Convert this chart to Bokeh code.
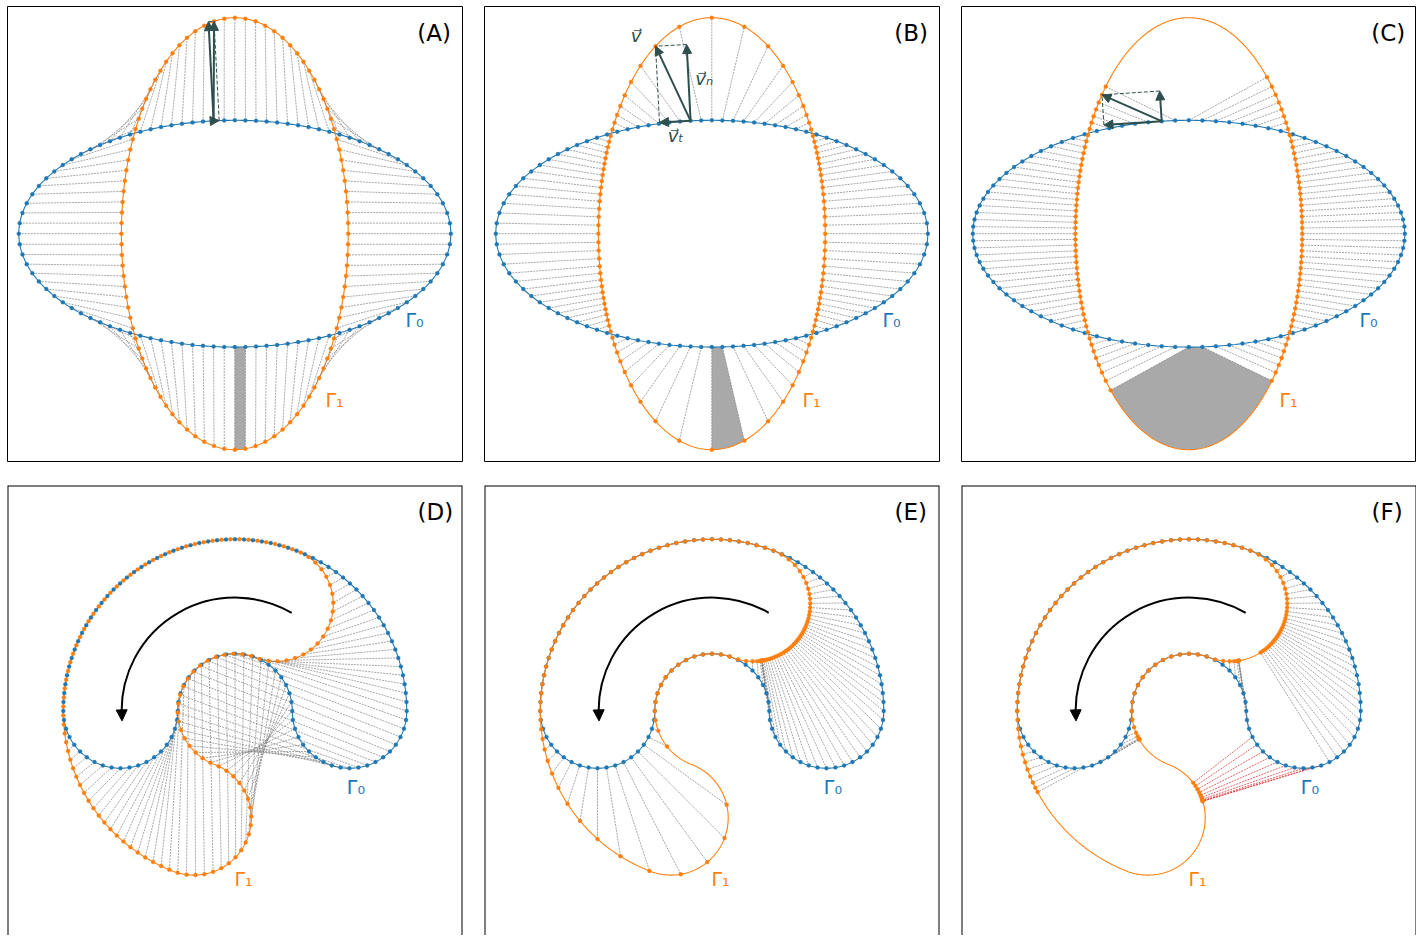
import numpy as np
from bokeh.plotting import figure
from bokeh.layouts import row, column
from bokeh.models import Range1d, Arrow, NormalHead
from bokeh.embed import file_html
from bokeh.resources import INLINE
from bokeh.core.properties import value

# ---------------- data ----------------
panel_letters = ["(A)", "(B)", "(C)", "(D)", "(E)", "(F)"]
curve_labels = ["Γ₀", "Γ₁"]
vector_labels = ["v⃗", "v⃗ₙ", "v⃗ₜ"]

gamma0_axes = [2.0, 1.05]      # ellipse Γ0 semi-axes (x, y)
gamma1_axes = [1.05, 2.0]      # ellipse Γ1 semi-axes (x, y)
ellipse_n = 100                # number of sample points on Γ0
arrow_idx = 27                 # point whose displacement is decomposed
shade_idx = [75, 76]           # shaded cell
shoot_dir_scale = [1.0, 0.4]   # panel (B) displacement direction scaling

bean_radii = [1.59, 0.53]      # outer / inner radius of the bean Γ0
bean_rot_deg = 69.0            # Γ1 = Γ0 rotated by this angle
bean_n = 120                   # number of sample points on bean Γ0
rot_arrow = [1.05, 60.0, 180.0, 185.0]   # radius, start, arc end, tip (deg)

label_top = [[1.664, -0.797], [0.923, -1.538]]
label_bot = [[1.12, -0.705], [0.08, -1.554]]
vec_label_xy = [[-0.70, 1.835], [-0.07, 1.434], [-0.333, 0.909]]
letter_xy = [[1.69, 1.855], [1.69, 1.84]]

BLUE, ORANGE, GREY = "#1f77b4", "#ff7f0e", "#7f7f7f"
DSG, RED, SHADE = "#2f4f4f", "#d62728", "#a9a9a9"
FONT = value("DejaVu Sans")
SCALE = 108.0   # pixels per unit


# ---------------- geometry helpers ----------------
def ell(ax, t):
    t = np.asarray(t, float)
    return np.column_stack([ax[0] * np.cos(t), ax[1] * np.sin(t)])


def ell_normal(ax, t):
    n = np.array([np.cos(t) / ax[0], np.sin(t) / ax[1]])
    return n / np.linalg.norm(n)


def arc_params(ax, n, m=40000):
    t = np.linspace(0.0, 2 * np.pi, m + 1)
    xy = ell(ax, t)
    cum = np.concatenate([[0.0], np.cumsum(np.hypot(*np.diff(xy, axis=0).T))])
    return np.interp(np.arange(n) * cum[-1] / n, cum, t)


def nearest_idx(p, dense):
    d2 = ((dense - p) ** 2).sum(1)
    m = d2.min()
    return int(np.flatnonzero(d2 <= m + 1e-9)[0])


def shoot_ellipse(p, d, ax):
    a, b = ax
    qa = (d[0] / a) ** 2 + (d[1] / b) ** 2
    qb = 2 * (p[0] * d[0] / a ** 2 + p[1] * d[1] / b ** 2)
    qc = (p[0] / a) ** 2 + (p[1] / b) ** 2 - 1
    disc = max(qb * qb - 4 * qa * qc, 0.0)
    roots = [(-qb - np.sqrt(disc)) / (2 * qa), (-qb + np.sqrt(disc)) / (2 * qa)]
    pos = [r for r in roots if r >= -1e-12]
    lam = min(pos) if pos else 0.0
    return p + lam * d


T_DENSE = np.linspace(0, 2 * np.pi, 40000, endpoint=False)
G1_DENSE = ell(gamma1_axes, T_DENSE)

# panel A: arc-length correspondence
tA0 = arc_params(gamma0_axes, ellipse_n)
tA1 = arc_params(gamma1_axes, ellipse_n)
A_src = ell(gamma0_axes, tA0)
A_img = ell(gamma1_axes, tA1)
A_timg = tA1.copy()

# panel B: shooting along a scaled direction
B_src = A_src.copy()
B_img = np.zeros_like(B_src)
for i, pt in enumerate(B_src):
    d = np.array([pt[0] * shoot_dir_scale[0], pt[1] * shoot_dir_scale[1]])
    inside = (pt[0] / gamma1_axes[0]) ** 2 + (pt[1] / gamma1_axes[1]) ** 2 < 1
    if not inside:
        d = -d
    B_img[i] = shoot_ellipse(pt, d, gamma1_axes)
B_timg = np.mod(np.arctan2(B_img[:, 1] / gamma1_axes[1], B_img[:, 0] / gamma1_axes[0]), 2 * np.pi)

# panel C: closest point projection, uniform parameter on Γ0
tC0 = 2 * np.pi * np.arange(ellipse_n) / ellipse_n
C_src = ell(gamma0_axes, tC0)
kC = np.array([nearest_idx(pt, G1_DENSE) for pt in C_src])
C_img = G1_DENSE[kC]
C_timg = T_DENSE[kC]

# ---------------- bean shapes ----------------
R_OUT, R_IN = bean_radii
W = (R_OUT - R_IN) / 2
RHO = (R_OUT + R_IN) / 2
LEN = np.array([np.pi * R_OUT, np.pi * W, np.pi * R_IN, np.pi * W])
CUM = np.concatenate([[0.0], np.cumsum(LEN)])
PER = CUM[-1]
ALPHA = np.deg2rad(bean_rot_deg)


def bean(s):
    s = np.mod(np.atleast_1d(np.asarray(s, float)), PER)
    piece = np.minimum(np.searchsorted(CUM[1:], s, side="right"), 3)
    u = s - CUM[piece]
    x = np.zeros_like(s); y = np.zeros_like(s)
    nx = np.zeros_like(s); ny = np.zeros_like(s)
    ang = np.full_like(s, np.nan)
    m = piece == 0
    th = u[m] / R_OUT
    x[m], y[m], nx[m], ny[m], ang[m] = R_OUT * np.cos(th), R_OUT * np.sin(th), np.cos(th), np.sin(th), th
    m = piece == 1
    ph = np.pi + u[m] / W
    x[m], y[m], nx[m], ny[m] = -RHO + W * np.cos(ph), W * np.sin(ph), np.cos(ph), np.sin(ph)
    m = piece == 2
    th = np.pi - u[m] / R_IN
    x[m], y[m], nx[m], ny[m], ang[m] = R_IN * np.cos(th), R_IN * np.sin(th), -np.cos(th), -np.sin(th), th
    m = piece == 3
    ph = np.pi + u[m] / W
    x[m], y[m], nx[m], ny[m] = RHO + W * np.cos(ph), W * np.sin(ph), np.cos(ph), np.sin(ph)
    return np.column_stack([x, y]), np.column_stack([nx, ny]), piece, ang


def rot(xy, a):
    c, s = np.cos(a), np.sin(a)
    return np.column_stack([c * xy[:, 0] - s * xy[:, 1], s * xy[:, 0] + c * xy[:, 1]])


S_DENSE = np.linspace(0, PER, 40000, endpoint=False)
_g, _, G1B_PIECE, _ = bean(S_DENSE)
G1B = rot(_g, ALPHA)
SEG_A = G1B
SEG_B = np.roll(G1B, -1, axis=0)

h = PER / bean_n
s0 = np.arange(bean_n) * h
BEAN_SRC, BEAN_NRM, BEAN_PIECE, BEAN_ANG = bean(s0)

# panel D: arc-length correspondence with shift
D_src = BEAN_SRC
D_img = rot(bean(s0 - ALPHA * R_OUT + h / 2)[0], ALPHA)


def ray_hit(pt, d):
    e = SEG_B - SEG_A
    ap = SEG_A - pt
    den = d[0] * e[:, 1] - d[1] * e[:, 0]
    with np.errstate(divide="ignore", invalid="ignore"):
        t = (ap[:, 0] * e[:, 1] - ap[:, 1] * e[:, 0]) / den
        u = (ap[:, 0] * d[1] - ap[:, 1] * d[0]) / den
    ok = (np.abs(den) > 1e-14) & (t > 1e-7) & (u >= 0) & (u <= 1)
    if not ok.any():
        return G1B[nearest_idx(pt, G1B)]
    tt = np.where(ok, t, np.inf)
    return pt + tt.min() * d


# panel E: normal flow-like correspondence
cap_mask = G1B_PIECE == 3
G1_CAP = G1B[cap_mask]
E_img = np.zeros_like(D_src)
for i, pt in enumerate(D_src):
    pc, ang = BEAN_PIECE[i], BEAN_ANG[i]
    if pc in (0, 2) and ang >= ALPHA - 1e-9:
        E_img[i] = pt
    elif pc == 1:
        if np.min(((G1B - pt) ** 2).sum(1)) < 1e-6:
            E_img[i] = pt
        else:
            E_img[i] = ray_hit(pt, BEAN_NRM[i])
    else:
        E_img[i] = G1_CAP[nearest_idx(pt, G1_CAP)]

# panel F: closest point projection
kF = np.array([nearest_idx(pt, G1B) for pt in D_src])
F_img = G1B[kF]
F_red = (BEAN_PIECE == 3) & (G1B_PIECE[kF] == 1)

# curves for drawing
T_CURVE = np.linspace(0, 2 * np.pi, 600)
ELL0 = ell(gamma0_axes, T_CURVE)
ELL1 = ell(gamma1_axes, T_CURVE)
S_CURVE = np.linspace(0, PER, 1500)
BEAN0 = bean(S_CURVE)[0]
BEAN1 = rot(BEAN0, ALPHA)

# ---------------- layout (pixels) ----------------
FRAME = 455
GAP_HALF = 11
LEFT_PAD = 7
TOP_PAD = 6
ROW_GAP_HALF = 12
BOTTOM_FRAME_H = 450


# ---------------- figures ----------------
def make_fig(col, rw):
    left = LEFT_PAD if col == 0 else GAP_HALF
    right = 0 if col == 2 else GAP_HALF
    if rw == 0:
        top, bottom, fh, yend, x0px = TOP_PAD, ROW_GAP_HALF, FRAME, 227.2 / SCALE, 227.3
    else:
        top, bottom, fh, yend, x0px = ROW_GAP_HALF, 0, BOTTOM_FRAME_H, 225.5 / SCALE, 227.5
    xs, xe = -x0px / SCALE, (FRAME - x0px) / SCALE
    ys = yend - fh / SCALE
    p = figure(width=left + FRAME + right, height=top + fh + bottom,
               x_range=Range1d(xs, xe), y_range=Range1d(ys, yend),
               output_backend="svg", toolbar_location=None, title=None,
               x_axis_location=None, y_axis_location=None,
               min_border_left=left, min_border_right=right,
               min_border_top=top, min_border_bottom=bottom)
    p.xgrid.visible = False
    p.ygrid.visible = False
    p.background_fill_color = "white"
    p.border_fill_color = "white"
    if rw == 0:
        p.outline_line_color = "black"
        p.outline_line_width = 1
    else:
        p.outline_line_color = None
        p.segment(x0=[xs, xe, xs], y0=[ys, ys, yend], x1=[xs, xe, xe], y1=[yend, yend, yend],
                  line_color="black", line_width=2)
    return p


def add_text(p, x, y, txt, color, size, align="center", style="normal"):
    p.text(x=[x], y=[y], text=[txt], text_color=color, text_font=FONT,
           text_font_size=value(size), text_align=align, text_baseline="middle",
           text_font_style=style)


def draw_curves(p, c0, c1):
    p.line(c0[:, 0], c0[:, 1], line_color=BLUE, line_width=1.1)
    p.line(c1[:, 0], c1[:, 1], line_color=ORANGE, line_width=1.1)


def draw_links(p, src, img, color=GREY):
    if len(src) == 0:
        return
    p.segment(x0=src[:, 0], y0=src[:, 1], x1=img[:, 0], y1=img[:, 1],
              line_color=color, line_width=0.7, line_dash="2 1")


def draw_dots(p, pts, color):
    p.scatter(pts[:, 0], pts[:, 1], size=4, marker="circle",
              fill_color=color, line_color=color, line_width=0.3)


def draw_shade(p, src, img, timg):
    i, j = shade_idx
    ts = np.linspace(timg[j], timg[i], 60)
    arc = ell(gamma1_axes, ts)
    poly = np.vstack([src[i], src[j], img[j], arc, img[i]])
    p.patch(poly[:, 0], poly[:, 1], fill_color=SHADE, line_color=None)


def draw_decomp(p, src, img, tsrc, labels=False):
    i = arrow_idx
    base, tip = src[i], img[i]
    n = ell_normal(gamma0_axes, tsrc[i])
    tg = np.array([-n[1], n[0]])
    v = tip - base
    vn = base + np.dot(v, n) * n
    vt = base + np.dot(v, tg) * tg
    p.segment(x0=[vn[0], vt[0]], y0=[vn[1], vt[1]], x1=[tip[0], tip[0]], y1=[tip[1], tip[1]],
              line_color=DSG, line_width=1, line_dash="4 2")
    for end in (tip, vn, vt):
        if np.hypot(*(end - base)) < 0.04:
            continue
        p.add_layout(Arrow(x_start=base[0], y_start=base[1], x_end=end[0], y_end=end[1],
                           line_color=DSG, line_width=2,
                           end=NormalHead(size=9, fill_color=DSG, line_color=DSG, line_width=1)))
    if labels:
        for (lx, ly), txt in zip(vec_label_xy, vector_labels):
            add_text(p, lx, ly, txt, DSG, "18px", style="italic")


def draw_rot_arrow(p):
    r, a0, a1, a2 = rot_arrow
    p.arc(x=[0.0], y=[0.0], radius=r, start_angle=np.deg2rad(a0), end_angle=np.deg2rad(a1),
          line_color="black", line_width=2)
    p.add_layout(Arrow(x_start=r * np.cos(np.deg2rad(a1 - 1)), y_start=r * np.sin(np.deg2rad(a1 - 1)),
                       x_end=r * np.cos(np.deg2rad(a2)), y_end=r * np.sin(np.deg2rad(a2)),
                       line_color="black", line_width=2,
                       end=NormalHead(size=11, fill_color="black", line_color="black", line_width=1)))


figs = []
top_sets = [(A_src, A_img, A_timg, tA0), (B_src, B_img, B_timg, tA0), (C_src, C_img, C_timg, tC0)]
for k, (src, img, timg, tsrc) in enumerate(top_sets):
    p = make_fig(k, 0)
    draw_shade(p, src, img, timg)
    draw_curves(p, ELL0, ELL1)
    draw_links(p, src, img)
    draw_dots(p, src, BLUE)
    draw_dots(p, img, ORANGE)
    draw_decomp(p, src, img, tsrc, labels=(k == 1))
    add_text(p, label_top[0][0], label_top[0][1], curve_labels[0], BLUE, "19px")
    add_text(p, label_top[1][0], label_top[1][1], curve_labels[1], ORANGE, "19px")
    add_text(p, letter_xy[0][0], letter_xy[0][1], panel_letters[k], "black", "23px", align="left")
    figs.append(p)

bottom_sets = [(D_src, D_img, None), (D_src, E_img, None), (D_src, F_img, F_red)]
for k, (src, img, red) in enumerate(bottom_sets):
    p = make_fig(k, 1)
    draw_curves(p, BEAN0, BEAN1)
    if red is None:
        draw_links(p, src, img)
    else:
        draw_links(p, src[~red], img[~red])
        draw_links(p, src[red], img[red], RED)
    draw_dots(p, src, BLUE)
    draw_dots(p, img, ORANGE)
    draw_rot_arrow(p)
    add_text(p, label_bot[0][0], label_bot[0][1], curve_labels[0], BLUE, "19px")
    add_text(p, label_bot[1][0], label_bot[1][1], curve_labels[1], ORANGE, "19px")
    add_text(p, letter_xy[1][0], letter_xy[1][1], panel_letters[3 + k], "black", "23px", align="left")
    figs.append(p)

layout = column(row(*figs[:3]), row(*figs[3:]))
open("out.html", "w").write(file_html(layout, INLINE, title="Curve correspondences"))
